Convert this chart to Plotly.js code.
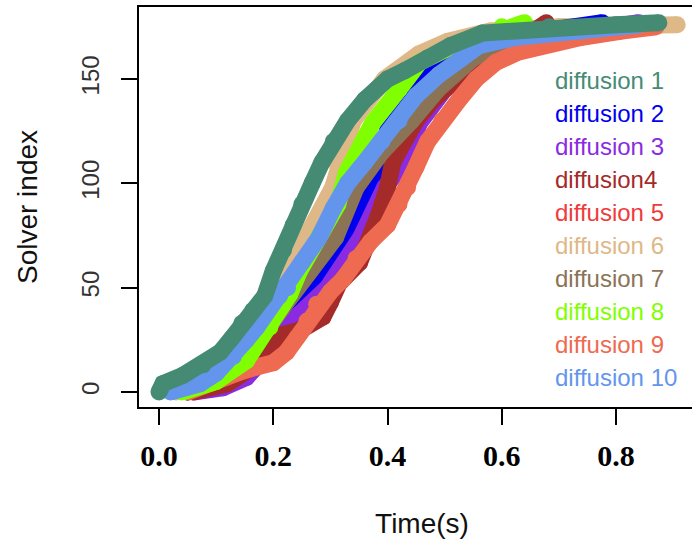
<!DOCTYPE html>
<html>
<head>
<meta charset="utf-8">
<script src="https://cdn.plot.ly/plotly-3.0.1.min.js"></script>
<style>html,body{margin:0;padding:0;background:#fff;overflow:hidden;}#chart{width:705px;height:541px;}</style>
</head>
<body>
<div id="chart"></div>
<script>
// Series names and colours
var seriesNames = ["diffusion 1","diffusion 2","diffusion 3","diffusion4","diffusion 5","diffusion 6","diffusion 7","diffusion 8","diffusion 9","diffusion 10"];
var seriesColors = ["#458B74","#0000EE","#8A2BE2","#A52A2A","#EE3B3B","#DEB887","#8B7355","#7FFF00","#EE6A50","#6495ED"];

// Time (s) at which each solver index was reached, per diffusion run
var t1 = [0.0, 0.007, 0.042, 0.077, 0.107, 0.128, 0.145, 0.164, 0.185, 0.2, 0.218, 0.235, 0.25, 0.268, 0.285, 0.305, 0.33, 0.36, 0.4, 0.43, 0.47, 0.51, 0.566, 0.683, 0.8, 0.875];
var s1 = [0, 4, 8, 13, 19, 26, 33, 39, 46, 58, 68, 80, 90, 100, 110, 120, 130, 140, 150, 154, 160, 166, 172, 175, 176, 177];

var t2 = [0.05, 0.12, 0.19, 0.23, 0.255, 0.265, 0.299, 0.337, 0.374, 0.381, 0.40, 0.418, 0.456, 0.52, 0.573, 0.65, 0.776];
var s2 = [0, 5, 20, 38, 47, 50, 62, 74, 98, 108, 125, 141, 153, 162, 167, 172, 177];

var t3 = [0.06, 0.112, 0.153, 0.19, 0.229, 0.265, 0.295, 0.353, 0.395, 0.433, 0.456, 0.5, 0.56, 0.63, 0.72, 0.84];
var s3 = [0, 2, 7, 18, 33, 42, 50, 74, 98, 111, 129, 145, 158, 166, 172, 177];

var t4 = [0.06, 0.12, 0.17, 0.19, 0.21, 0.25, 0.287, 0.30, 0.315, 0.351, 0.372, 0.386, 0.40, 0.409, 0.433, 0.45, 0.48, 0.52, 0.573, 0.62, 0.678];
var s4 = [0, 4, 13, 20, 27, 30, 36, 43, 52, 62, 74, 86, 98, 110, 122, 130, 140, 150, 160, 166, 177];

var t5 = [0.05, 0.13, 0.2, 0.24, 0.266, 0.323, 0.357, 0.398, 0.44, 0.5, 0.566, 0.62, 0.706, 0.8, 0.87];
var s5 = [0, 6, 18, 35, 50, 74, 98, 116, 135, 150, 160, 165, 169, 174, 176];

var t6 = [0.03, 0.1, 0.147, 0.2, 0.257, 0.304, 0.313, 0.34, 0.395, 0.455, 0.505, 0.58, 0.7, 0.907];
var s6 = [0, 8, 28, 50, 74, 98, 108, 130, 150, 162, 168, 173, 175, 176];

var t7 = [0.05, 0.11, 0.16, 0.215, 0.262, 0.309, 0.345, 0.39, 0.442, 0.488, 0.55, 0.6, 0.68, 0.78, 0.86];
var s7 = [0, 8, 20, 40, 60, 74, 98, 115, 130, 145, 160, 167, 172, 175, 176];

var t8 = [0.04, 0.10, 0.153, 0.194, 0.229, 0.246, 0.28, 0.313, 0.328, 0.374, 0.42, 0.456, 0.5, 0.56, 0.6, 0.64];
var s8 = [0, 5, 15, 31, 47, 58, 75, 90, 105, 129, 145, 158, 164, 170, 175, 177];

var t9 = [0.05, 0.066, 0.10, 0.136, 0.171, 0.2, 0.223, 0.241, 0.259, 0.276, 0.30, 0.322, 0.345, 0.37, 0.40, 0.42, 0.435, 0.45, 0.47, 0.495, 0.525, 0.555, 0.59, 0.63, 0.683, 0.74, 0.81, 0.87];
var s9 = [0, 2, 6, 9, 12, 14, 19, 26, 34, 42, 48, 54, 64, 72, 80, 90, 98, 108, 120, 130, 140, 150, 158, 163, 167, 170, 173, 175];

var t10 = [0.02, 0.03, 0.072, 0.10, 0.13, 0.153, 0.171, 0.188, 0.211, 0.225, 0.25, 0.28, 0.305, 0.33, 0.36, 0.39, 0.42, 0.45, 0.49, 0.53, 0.56, 0.625, 0.74, 0.84];
var s10 = [0, 1, 4, 9, 17, 25, 31, 38, 46, 50, 62, 74, 88, 100, 110, 120, 130, 142, 152, 160, 166, 170, 173, 176];

var xTicks = [0.0, 0.2, 0.4, 0.6, 0.8];
var xTickText = ["0.0", "0.2", "0.4", "0.6", "0.8"];
var yTicks = [0, 50, 100, 150];

var times = [t1, t2, t3, t4, t5, t6, t7, t8, t9, t10];
var idx = [s1, s2, s3, s4, s5, s6, s7, s8, s9, s10];
// drawing order (bottom to top), as layered in the picture
var order = [5, 4, 1, 2, 3, 6, 8, 7, 9, 0];

var traces = order.map(function (i) {
  return {
    x: times[i], y: idx[i], name: seriesNames[i], type: "scatter", mode: "lines+markers",
    line: {color: seriesColors[i], width: 17},
    marker: {color: seriesColors[i], size: 17},
    showlegend: false, hoverinfo: "skip"
  };
});

var annotations = seriesNames.map(function (n, i) {
  return {
    xref: "x", yref: "y", x: 0.69, y: 149.5 - i * 15.86,
    xanchor: "left", yanchor: "middle", showarrow: false,
    text: n, font: {family: "Liberation Sans, Arial, sans-serif", size: 24, color: seriesColors[i]}
  };
});

var layout = {
  width: 705, height: 541,
  margin: {l: 139, r: 0, t: 7, b: 134},
  paper_bgcolor: "#fff", plot_bgcolor: "#fff",
  showlegend: false,
  xaxis: {
    range: [-0.035, 0.9557], tickvals: xTicks, ticktext: xTickText,
    showgrid: false, zeroline: false, showline: true, mirror: true, linecolor: "#000", linewidth: 2,
    ticks: "outside", ticklen: 16, tickwidth: 2, tickcolor: "#000",
    ticklabelstandoff: 5,
    tickfont: {family: "Liberation Serif, Times New Roman, serif", size: 30, color: "#000", weight: "bold"},
    title: {text: "Time(s)", font: {family: "Liberation Sans, Arial, sans-serif", size: 28, color: "#111"}, standoff: 42}
  },
  yaxis: {
    range: [-7.19, 184.5], tickvals: yTicks,
    showgrid: false, zeroline: false, showline: true, linecolor: "#000", linewidth: 2,
    ticks: "outside", ticklen: 16, tickwidth: 2, tickcolor: "#000",
    tickangle: -90, ticklabelstandoff: 12,
    tickfont: {family: "Liberation Sans, Arial, sans-serif", size: 24, color: "#333"},
    title: {text: "Solver index", font: {family: "Liberation Sans, Arial, sans-serif", size: 28, color: "#111"}, standoff: 32}
  },
  annotations: annotations
};

Plotly.newPlot("chart", traces, layout, {displayModeBar: false, staticPlot: true});
</script>
</body>
</html>
